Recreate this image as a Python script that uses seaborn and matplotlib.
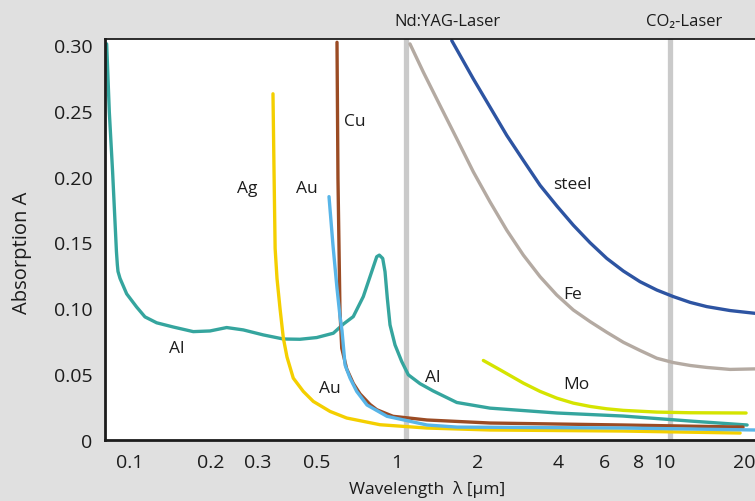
import matplotlib
matplotlib.use('Agg')
import pandas as pd
import matplotlib.pyplot as plt
import seaborn as sns

# absorption curves: wavelength [um] and absorption A
al_wl = [0.0818, 0.0837, 0.0861, 0.0879, 0.0890, 0.0897, 0.0902, 0.0918, 0.0972, 0.1059,
         0.1138, 0.1259, 0.1453, 0.1726, 0.1993, 0.2302, 0.2657, 0.3157, 0.3752, 0.4332,
         0.5003, 0.5774, 0.6293, 0.6858, 0.7477, 0.8038, 0.8396, 0.8584, 0.8839, 0.9017,
         0.9198, 0.9414, 0.9829, 1.0414, 1.1024, 1.2191, 1.3676, 1.674, 2.229, 3.975,
         7.02, 12.52, 20.46]
al_a = [0.3008, 0.2490, 0.2036, 0.1657, 0.1430, 0.1330, 0.1280, 0.1227, 0.1110, 0.1010,
        0.0935, 0.0890, 0.0858, 0.0823, 0.0828, 0.0854, 0.0836, 0.0798, 0.0767, 0.0765,
        0.0778, 0.0811, 0.0880, 0.0937, 0.1089, 0.1278, 0.1392, 0.1404, 0.1379, 0.1278,
        0.1076, 0.0874, 0.0722, 0.0596, 0.0495, 0.0428, 0.0372, 0.0285, 0.0242, 0.0205,
        0.0182, 0.0144, 0.0114]

ag_wl = [0.3432, 0.3462, 0.3496, 0.3553, 0.3646, 0.3753, 0.3873, 0.4088, 0.4457, 0.4859,
         0.5613, 0.648, 0.8636, 1.292, 2.229, 7.02, 19.26]
ag_a = [0.2629, 0.206, 0.1455, 0.1227, 0.100, 0.0773, 0.0630, 0.0470, 0.0369, 0.0293,
        0.0217, 0.0167, 0.0116, 0.0091, 0.0076, 0.0068, 0.0053]

cu_wl = [0.596, 0.601, 0.6115, 0.6209, 0.648, 0.6858, 0.727, 0.7922, 0.84, 0.966, 1.295,
         2.229, 7.02, 19.76]
cu_a = [0.302, 0.1985, 0.0977, 0.0697, 0.054, 0.043, 0.035, 0.027, 0.023, 0.018, 0.0152,
        0.0129, 0.0114, 0.0098]

au_wl = [0.5563, 0.5758, 0.596, 0.6115, 0.6223, 0.6389, 0.667, 0.7064, 0.772, 0.917, 1.295,
         1.678, 7.02, 21.9]
au_a = [0.1848, 0.1477, 0.1152, 0.0940, 0.0830, 0.0570, 0.0470, 0.0369, 0.0266, 0.018,
        0.0114, 0.0098, 0.0091, 0.0076]

mo_wl = [2.105, 2.431, 2.972, 3.433, 3.964, 4.574, 5.283, 6.101, 7.04, 9.39, 12.52, 20.28]
mo_a = [0.0604, 0.0533, 0.0432, 0.0369, 0.0318, 0.0280, 0.0255, 0.0237, 0.0225, 0.0212,
        0.0207, 0.0205]

fe_wl = [1.118, 1.255, 1.449, 1.674, 1.931, 2.230, 2.576, 2.972, 3.433, 3.964, 4.574, 5.283,
         6.101, 7.04, 8.13, 9.39, 10.83, 12.52, 14.45, 17.67, 21.9]
fe_a = [0.3008, 0.2793, 0.2540, 0.2288, 0.2036, 0.1808, 0.1593, 0.1404, 0.1240, 0.1101,
        0.0987, 0.0899, 0.0818, 0.0742, 0.0680, 0.0621, 0.0588, 0.0566, 0.0551, 0.0536, 0.0540]

steel_wl = [1.603, 1.931, 2.230, 2.576, 2.972, 3.433, 3.964, 4.574, 5.283, 6.101, 7.04, 8.13,
            9.39, 10.83, 12.52, 14.45, 17.67, 21.9]
steel_a = [0.3033, 0.2742, 0.2528, 0.2313, 0.2123, 0.1934, 0.1778, 0.1631, 0.1498, 0.1379,
           0.1283, 0.1202, 0.1139, 0.1089, 0.1045, 0.1013, 0.0983, 0.0962]

metals = ['Al', 'Ag', 'Cu', 'Au', 'Mo', 'Fe', 'steel']
colors = ['#35a59e', '#f4cf00', '#9b4b24', '#58b5e8', '#d5e400', '#b4aaa2', '#2d54a2']

# curve labels: text, wavelength, absorption
label_text = ['Cu', 'Ag', 'Au', 'Al', 'Au', 'Al', 'steel', 'Fe', 'Mo']
label_wl = [0.696, 0.274, 0.46, 0.150, 0.561, 1.364, 4.52, 4.56, 4.68]
label_a = [0.2424, 0.191, 0.191, 0.0697, 0.0394, 0.0477, 0.1947, 0.111, 0.0424]

# laser lines and where their captions sit
laser_names = ['Nd:YAG-Laser', 'CO\u2082-Laser']
laser_wl = [1.08, 10.55]
laser_label_wl = [1.54, 11.9]

xticks = [0.1, 0.2, 0.3, 0.5, 1, 2, 4, 6, 8, 10, 20]
xtick_labels = ['0.1', '0.2', '0.3', '0.5', '1', '2', '4', '6', '8', '10', '20']
yticks = [0, 0.05, 0.10, 0.15, 0.20, 0.25, 0.30]
ytick_labels = ['0', '0.05', '0.10', '0.15', '0.20', '0.25', '0.30']

frames = []
for name, wl, a in [('Al', al_wl, al_a), ('Ag', ag_wl, ag_a), ('Cu', cu_wl, cu_a),
                    ('Au', au_wl, au_a), ('Mo', mo_wl, mo_a), ('Fe', fe_wl, fe_a),
                    ('steel', steel_wl, steel_a)]:
    frames.append(pd.DataFrame({'metal': name, 'wl': wl, 'A': a}))
df = pd.concat(frames, ignore_index=True)

sns.set_theme(style='white')
plt.rcParams['font.family'] = ['Open Sans', 'DejaVu Sans']

bg = '#e0e0e0'
ink = '#1c1c1c'
fig = plt.figure(figsize=(7.55, 5.02), dpi=100, facecolor=bg)
ax = fig.add_axes([0.139, 0.1215, 0.861, 0.7988])
ax.set_facecolor('white')

for wl in laser_wl:
    ax.axvline(wl, color='#cacaca', lw=3.8, zorder=1)

sns.lineplot(data=df, x='wl', y='A', hue='metal', hue_order=metals,
             palette=dict(zip(metals, colors)), sort=False, estimator=None,
             lw=2.4, legend=False, ax=ax, zorder=2)

ax.set_xscale('log')
ax.set_xlim(0.0806, 21.9)
ax.set_ylim(0, 0.3045)

ax.xaxis.set_major_locator(plt.FixedLocator(xticks))
ax.xaxis.set_minor_locator(plt.NullLocator())
ax.set_xticklabels(xtick_labels)
ax.set_yticks(yticks)
ax.set_yticklabels(ytick_labels)
ax.tick_params(direction='in', length=8, width=1.2, color='#555555',
               labelsize=14, labelcolor=ink)
ax.tick_params(axis='x', pad=9)
ax.tick_params(axis='y', pad=9)

for side in ['left', 'bottom']:
    ax.spines[side].set_linewidth(2)
    ax.spines[side].set_color(ink)
ax.spines['top'].set_linewidth(1.3)
ax.spines['top'].set_color(ink)
ax.spines['right'].set_visible(False)

for t, x, y in zip(label_text, label_wl, label_a):
    ax.text(x, y, t, ha='center', va='center', fontsize=12.5, color=ink)

for t, x in zip(laser_names, laser_label_wl):
    ax.text(x, 1.046, t, transform=ax.get_xaxis_transform(), ha='center',
            va='center', fontsize=12, color=ink)

ax.set_ylabel('Absorption A', fontsize=14.5, color=ink)
ax.yaxis.set_label_coords(-0.112, 0.47)
ax.set_xlabel('Wavelength  \u03bb [\u03bcm]', fontsize=12.5, color=ink)
ax.xaxis.set_label_coords(0.495, -0.1)

fig.savefig('out.png', dpi=100, facecolor=bg)
